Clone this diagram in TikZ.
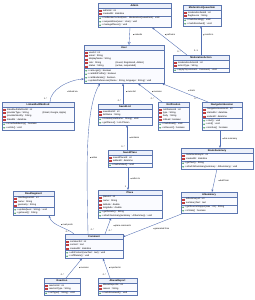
\documentclass[tikz,border=0pt]{standalone}
\usepackage{fontspec}
\setmainfont{Liberation Sans}
\newfontfamily\dirfont{DejaVu Sans}
\usetikzlibrary{arrows.meta,calc,fit}

\definecolor{bordc}{RGB}{92,118,176}
\definecolor{linkc}{RGB}{84,112,180}
\definecolor{boxf}{RGB}{250,251,255}
\definecolor{headf}{RGB}{236,240,250}
\definecolor{shadc}{RGB}{205,208,216}
\definecolor{privd}{RGB}{196,62,62}
\definecolor{privf}{RGB}{240,160,160}
\definecolor{pubd}{RGB}{40,140,70}
\definecolor{pubf}{RGB}{120,200,130}

\tikzset{
  classfill/.style={fill=boxf, inner sep=0pt, outer sep=0pt},
  classborder/.style={draw=bordc, line width=0.8pt},
  titletext/.style={font=\fontsize{7.5}{8}\selectfont\bfseries, inner sep=0pt},
  membertext/.style={font=\fontsize{7}{8}\selectfont, inner sep=0pt, anchor=west},
  privmark/.style={draw=privd, fill=privf, line width=0.5pt},
  pubmark/.style={draw=pubd, fill=pubf, line width=0.5pt},
  link/.style={draw=linkc, line width=1.1pt},
  navarrow/.style={link, -{Stealth[length=8pt,width=6pt]}},
  genarrow/.style={link, -{Triangle[open,length=9pt,width=9pt,fill=white]}},
  linklabel/.style={font=\fontsize{6.5}{7}\selectfont, inner sep=0pt, anchor=west},
  multlabel/.style={font=\fontsize{6.5}{7}\selectfont, inner sep=0pt},
}
\newcommand\dirmark[1]{{\dirfont\fontsize{4.5}{5}\selectfont #1}\,}

% #1 id, #2 x1, #3 y1, #4 x2, #5 attrs count, #6 methods count, #7 title, #8 attrs, #9 methods
\newcommand\umlclass[9]{%
  \pgfmathsetmacro\ya{#3+5}%
  \pgfmathsetmacro\yb{\ya+#5*3.5+1}%
  \pgfmathsetmacro\yc{\yb+#6*3.5+1}%
  \fill[shadc] (#2+0.8,#3+0.8) rectangle (#4+0.8,\yc+0.8);
  \node[classfill, fit={(#2,#3) (#4,\yc)}] (#1) {};
  \fill[headf] (#2,#3) rectangle (#4,\ya);
  \draw[bordc, line width=0.6pt] (#2,\ya) -- (#4,\ya) (#2,\yb) -- (#4,\yb);
  \draw[classborder] (#1.north west) rectangle (#1.south east);
  \node[titletext] (#1-title) at ({(#2+#4)/2},#3+2.5) {#7};
  \foreach \mem [count=\i from 0] in {#8} {
    \pgfmathsetmacro\yy{\ya+2.25+3.5*\i}
    \filldraw[privmark] (#2+1.5,\yy-0.6) rectangle (#2+2.7,\yy+0.6);
    \node[membertext] (#1-a\i) at (#2+3.6,\yy) {\mem};
  }
  \foreach \mem [count=\i from 0] in {#9} {
    \pgfmathsetmacro\yy{\yb+2.25+3.5*\i}
    \filldraw[pubmark] (#2+2.1,\yy) circle [radius=1.9pt];
    \node[membertext] (#1-m\i) at (#2+3.6,\yy) {\mem};
  }
}

\begin{document}
\begin{tikzpicture}[x=3pt, y=-3pt]
\fill[white] (0,0) rectangle (255,300);
\useasboundingbox (0,0) rectangle (255,300);

\umlclass{admin}{98}{3}{171}{2}{3}{Admin}
  {{- adminId : int},{- createdAt : datetime}}
  {{+ moderateContent(item : ModerationQueueItem) : void},{+ suspendUser(user : User) : void},{+ managePlaces() : void}}

\umlclass{mqi}{183}{5}{221}{2}{2}{ModerationQueueItem}
  {{- moderationItemId : int},{- flagSource : String}}
  {{+ markPending() : void},{+ markResolved() : void}}

\umlclass{user}{84}{45}{164}{5}{4}{User}
  {{- userId : int},{- email : String},{- displayName : String},{\makebox[84pt][l]{- role : String}\{Guest, Registered, Admin\}},{\makebox[84pt][l]{- status : String}\{active, suspended\}}}
  {{+ canLogin() : boolean},{+ canEditProfile() : boolean},{+ canModerate() : boolean},{+ updatePreferences(theme : String, language : String) : void}}

\umlclass{modact}{173}{55}{229}{2}{1}{ModerationAction}
  {{- moderationActionId : int},{- actionType : String}}
  {{+ applyTo(comment : Comment) : void}}

\umlclass{lam}{2}{102}{74}{4}{2}{LinkedAuthMethod}
  {{- linkedAuthMethodId : int},{\makebox[111pt][l]{- providerType : String}\{Email, Google, Apple\}},{- providerIdentity : String},{- linkedAt : datetime}}
  {{+ isVerifiedIdentity() : boolean},{+ unlink() : void}}

\umlclass{savedlist}{98}{104}{152}{2}{2}{SavedList}
  {{- savedListId : int},{- listName : String}}
  {{+ rename(newName : String) : void},{+ getPlaces() : List<Place>}}

\umlclass{notif}{158}{102}{189}{4}{2}{Notification}
  {{- notificationId : int},{- type : String},{- body : String},{- isRead : boolean}}
  {{+ markRead() : void},{+ isRecent() : boolean}}

\umlclass{nav}{202}{102}{242}{3}{3}{NavigationSession}
  {{- navigationSessionId : int},{- startedAt : datetime},{- endedAt : datetime}}
  {{+ start() : void},{+ end() : void},{+ isActive() : boolean}}

\umlclass{savedplace}{108}{150}{152}{2}{1}{SavedPlace}
  {{- savedPlaceId : int},{- addedAt : datetime}}
  {{+ markVisited() : void}}

\umlclass{route}{181}{148}{253}{2}{2}{RouteSummary}
  {{- routeSummaryId : int},{- createdAt : datetime}}
  {{+ getText() : String},{+ attachAISummary(summary : AISummary) : void}}

\umlclass{place}{98}{190}{162}{4}{2}{Place}
  {{- placeId : int},{- name : String},{- latitude : double},{- longitude : double}}
  {{+ getDetails() : String},{+ attachSummary(summary : AISummary) : void}}

\umlclass{road}{13}{191}{54}{3}{2}{RoadSegment}
  {{- roadSegmentId : int},{- name : String},{- geometry : String}}
  {{+ update(level : String) : void},{+ getLevel() : String}}

\umlclass{ai}{181}{192}{237}{2}{2}{AISummary}
  {{- aiSummaryId : int},{- summaryText : text}}
  {{+ getSourceSnippet(max : int) : String},{+ isStale() : boolean}}

\umlclass{comment}{65}{234}{123}{3}{2}{Comment}
  {{- commentId : int},{- content : text},{- createdAt : datetime}}
  {{+ editContent(newText : text) : void},{+ softDelete() : void}}

\umlclass{reaction}{44}{278}{80}{2}{1}{Reaction}
  {{- reactionId : int},{- reactionType : String}}
  {{+ setType(t : String) : void}}

\umlclass{abuse}{98}{278}{137}{2}{1}{AbuseReport}
  {{- abuseReportId : int},{- reason : String}}
  {{+ markReviewed() : void}}

% connectors
\draw[genarrow] ($(admin.south west)+(32,0)$) -- ($(user.north west)+(45,0)$);
\node[linklabel] (l-extends) at (133,35) {\dirmark{▼}extends};

\draw[navarrow] ($(modact.north west)+(14,0)$) -- ($(admin.south west)+(54,0)$);
\node[linklabel] (l-performs) at (165,35) {\dirmark{▼}performs};
\node[multlabel] (m-performs) at (179,52) {0..*};

\draw[navarrow] ($(modact.north west)+(28,0)$) -- ($(mqi.south west)+(18,0)$);
\node[linklabel] (l-results) at (203,35) {\dirmark{▲}results in};
\node[multlabel] (m-results) at (196,51) {0..1};

\draw[navarrow] ($(lam.north west)+(48,0)$) .. controls (50,90) and (68,80) .. ($(user.south west)+(0,-4.5)$);
\node[linklabel] (l-linked) at (67,92) {\dirmark{◄}linked via};
\node[multlabel] (m-linked) at (45.5,98.5) {1..*};

\draw[navarrow] ($(savedlist.north west)+(25,0)$) -- ($(user.south west)+(39,0)$);
\node[linklabel] (l-owns) at (126,92) {\dirmark{▼}owns list};
\node[multlabel] (m-owns) at (119.5,100.5) {0..*};

\draw[navarrow] ($(notif.north west)+(4,0)$) -- ($(user.south west)+(54,0)$);
\node[linklabel] (l-receives) at (152,92) {\dirmark{▼}receives};
\node[multlabel] (m-receives) at (152.5,99) {0..*};

\draw[navarrow] ($(nav.north west)+(6,0)$) -- ($(user.south east)+(-2,0)$);
\node[linklabel] (l-starts) at (188,91) {\dirmark{►}starts};
\node[multlabel] (m-starts) at (196,99) {0..*};

\draw[navarrow] ($(comment.north west)+(23,0)$) .. controls (87,180) and (84,110) .. ($(user.south west)+(16,0)$);
\node[linklabel] (l-writes) at (90,158) {\dirmark{▼}writes};
\node[multlabel] (m-writes) at (92.5,229.5) {0..*};

\draw[navarrow] ($(savedplace.north west)+(19,0)$) -- ($(savedlist.south west)+(29,0)$);
\node[linklabel] (l-contains) at (129.5,137.5) {\dirmark{▼}contains};
\node[multlabel] (m-contains) at (123,146.5) {0..*};

\draw[navarrow] ($(savedplace.south west)+(20,0)$) -- ($(place.north west)+(30,0)$);
\node[linklabel] (l-refers) at (130.5,179) {\dirmark{▼}refers to};
\node[multlabel] (m-refers) at (125.5,186.5) {1};

\draw[navarrow] ($(nav.south west)+(18,0)$) -- ($(route.north west)+(39,0)$);
\node[linklabel] (l-hassum) at (222.5,139) {\dirmark{▼}has summary};

\draw[navarrow] ($(route.south west)+(36,0)$) -- ($(ai.north west)+(31,0)$);
\node[linklabel] (l-built) at (218.5,180.5) {\dirmark{▼}built from};

\draw[navarrow] ($(ai.south west)+(3,0)$) -- ($(comment.north east)+(0,3)$);
\node[linklabel] (l-generated) at (153,228.5) {\dirmark{◄}generated from};

\draw[navarrow] ($(comment.north west)+(40,0)$) -- ($(place.south west)+(13,0)$);
\node[linklabel] (l-placecom) at (113.5,226) {\dirmark{▼}place comments};
\node[multlabel] (m-placecom) at (110.5,231) {0..*};

\draw[navarrow] ($(comment.north west)+(9,0)$) .. controls (68,228) and (52,226) .. ($(road.south west)+(36,0)$);
\node[linklabel] (l-road) at (61,224.5) {\dirmark{▼}road posts};
\node[multlabel] (m-road) at (67.5,231.5) {0..*};

\draw[navarrow] ($(reaction.north west)+(22,0)$) -- ($(comment.south west)+(17,0)$);
\node[linklabel] (l-react) at (79,268) {\dirmark{▼}receives};
\node[multlabel] (m-react) at (62.5,275) {0..*};

\draw[navarrow] ($(abuse.north west)+(12,0)$) -- ($(comment.south west)+(38,0)$);
\node[linklabel] (l-reported) at (109,268) {\dirmark{▼}reported in};
\node[multlabel] (m-reported) at (104.5,275) {0..*};
\end{tikzpicture}
\end{document}
